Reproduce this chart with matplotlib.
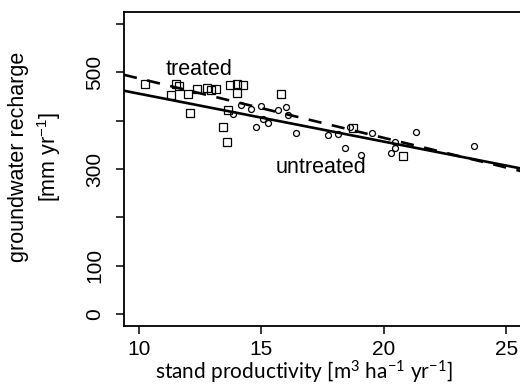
import matplotlib
matplotlib.use("Agg")
import matplotlib.pyplot as plt
import numpy as np

plt.rcParams['font.family'] = ['Liberation Sans', 'DejaVu Sans']
plt.rcParams['mathtext.default'] = 'regular'

# treated stands (squares)
treated_x = [10.26, 11.50, 11.63, 11.32, 12.00, 12.09, 12.38, 12.79, 12.95, 13.16,
             13.70, 14.01, 14.24, 14.01, 15.81, 13.65, 13.43, 13.60, 18.73, 20.76]
treated_y = [477, 477, 472, 454, 456, 415, 466, 468, 463, 465,
             473, 477, 473, 458, 456, 422, 386, 356, 385, 328]

# untreated stands (circles)
untreated_x = [13.84, 14.15, 14.56, 14.99, 15.06, 15.27, 14.76, 15.67, 16.01, 16.08,
               16.40, 17.71, 18.13, 18.41, 18.61, 19.06, 19.50, 20.27, 20.45, 20.45,
               21.29, 23.69]
untreated_y = [413, 432, 425, 430, 404, 396, 386, 423, 429, 411,
               374, 370, 373, 344, 386, 330, 374, 333, 343, 357,
               377, 348]

# regression lines: intercept, slope
untreated_fit = [555.3, -9.93]
treated_fit = [610.5, -12.3]

y_ticks = [0, 100, 200, 300, 400, 500, 600]
y_ticklabels = ['0', '100', '', '300', '', '500', '']
x_ticks = [10, 15, 20, 25]

W, H = 520, 387
fig = plt.figure(figsize=(W / 100, H / 100), dpi=100)
xlo, xhi = 9.39, 25.8
left = 124 / W
bottom = 1 - 326 / H
top = 1 - 12 / H
right_px = 139 + (xhi - 10) * 24.5
ax_w_px = right_px - 124
ax_h_px = 326 - 12
ax = fig.add_axes([left, bottom, ax_w_px / W, top - bottom])

xs = np.array([xlo, xhi])
ax.plot(xs, untreated_fit[0] + untreated_fit[1] * xs, color='black', lw=1.9,
        solid_capstyle='butt', zorder=2)
ax.plot(xs, treated_fit[0] + treated_fit[1] * xs, color='black', lw=1.9,
        linestyle=(0, (5, 4)), zorder=2)

ax.plot(treated_x, treated_y, linestyle='none', marker='s', markersize=5.2,
        markerfacecolor='none', markeredgecolor='black', markeredgewidth=0.9, zorder=3)
ax.plot(untreated_x, untreated_y, linestyle='none', marker='o', markersize=4.3,
        markerfacecolor='none', markeredgecolor='black', markeredgewidth=0.9, zorder=3)

ax.text(12.45, 507, 'treated', fontsize=15.5, ha='center', va='center')
ax.text(17.43, 304, 'untreated', fontsize=15.5, ha='center', va='center')

ax.set_xlim(xlo, xhi)
ax.set_ylim(-24.8, 625)
ax.set_yticks(y_ticks)
ax.set_yticklabels(y_ticklabels, rotation=90, va='center', fontsize=15)
ax.set_xticks(x_ticks)
ax.set_xticklabels([str(t) for t in x_ticks], fontsize=15)
ax.tick_params(axis='both', length=6, width=1.1, direction='out', pad=4)
ax.tick_params(axis='y', pad=8)

for s in ax.spines.values():
    s.set_linewidth(1.3)

ax.set_ylabel('groundwater recharge\n[mm yr$^{-1}$]', fontsize=15.5, linespacing=1.3)
ax.yaxis.set_label_coords((63 - 124) / ax_w_px, (326 - 157) / ax_h_px)
ax.set_xlabel('stand productivity [m$^{3}$ ha$^{-1}$ yr$^{-1}$]', fontsize=15,
              family=['Lato', 'DejaVu Sans'])
ax.xaxis.set_label_coords((304 - 124) / ax_w_px, -(359 - 326) / ax_h_px)

fig.savefig('out.png', dpi=100)
